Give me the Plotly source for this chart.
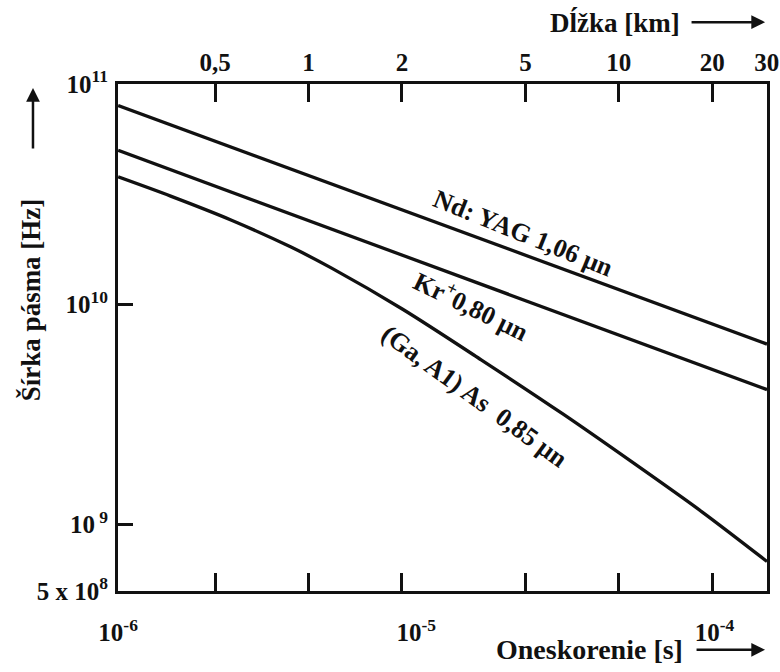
import plotly.graph_objects as go
import math

# ---- data ----
# delay [s] axis extent and decade tick labels
X_MIN, X_MAX = 1e-6, 1.5e-4
X_TICKS = [1e-6, 1e-5, 1e-4]
X_TICKTEXT = ["10<sup>-6</sup>", "10<sup>-5</sup>", "10<sup>-4</sup>"]

# bandwidth [Hz] axis
Y_MIN, Y_MAX = 5e8, 1e11
Y_TICKS = [5e8, 1e9, 1e10, 1e11]
Y_TICKTEXT = ["5 x 10<sup>8</sup>", "10<sup> 9</sup>", "10<sup>10</sup>", "10<sup>11</sup>"]

# length [km] top axis (its own log scale as drawn in the reference)
KM_MIN, KM_MAX = 0.243, 30
KM_TICKS = [0.5, 1, 2, 5, 10, 20, 30]
KM_TICKTEXT = ["0,5", "1", "2", "5", "10", "20", "30"]

# curves
nd_t = [1e-6, 1.5e-4]
nd_b = [8.0e10, 6.6e9]

kr_t = [1e-6, 1.5e-4]
kr_b = [5.0e10, 4.1e9]

ga_t = [1e-6, 1.5e-6, 2.4e-6, 3.8e-6, 5.2e-6, 9e-6, 1.65e-5, 3.1e-5, 5.3e-5, 9.1e-5, 1.5e-4]
ga_b = [3.79e10, 3.10e10, 2.41e10, 1.82e10, 1.46e10, 9.5e9, 5.6e9, 3.18e9, 1.92e9, 1.14e9, 6.8e8]

FONT = "Liberation Serif, Times New Roman, serif"
LW = 3.3

fig = go.Figure()
for t, b in [(nd_t, nd_b), (kr_t, kr_b), (ga_t, ga_b)]:
    fig.add_trace(go.Scatter(x=t, y=b, mode="lines", line=dict(color="#111111", width=LW, shape="spline", smoothing=0.8),
                             showlegend=False, hoverinfo="skip"))
# dummy trace for the km axis
fig.add_trace(go.Scatter(x=KM_TICKS, y=[None] * len(KM_TICKS), xaxis="x2", mode="markers",
                         showlegend=False, hoverinfo="skip"))

fig.update_layout(
    width=780, height=672,
    margin=dict(l=118, r=13, t=84, b=81),
    paper_bgcolor="white", plot_bgcolor="white",
    font=dict(family=FONT, size=25, color="#111111", weight="bold"),
    xaxis=dict(type="log", range=[math.log10(X_MIN) - 0.0005, math.log10(X_MAX)],
               tickvals=X_TICKS, ticktext=X_TICKTEXT, ticks="", showgrid=False, zeroline=False, automargin=False,
               showline=True, linecolor="#111111", linewidth=3, ticklabelstandoff=17),
    xaxis2=dict(type="log", overlaying="x", side="top", anchor="y", automargin=False,
                range=[math.log10(KM_MIN), math.log10(KM_MAX) + 0.0005],
                tickvals=KM_TICKS, ticktext=KM_TICKTEXT, ticks="inside", ticklen=18, tickwidth=2.5,
                tickcolor="#111111", showgrid=False, zeroline=False,
                showline=True, linecolor="#111111", linewidth=3, mirror="ticks", ticklabelstandoff=0),
    yaxis=dict(type="log", range=[math.log10(Y_MIN) - 0.0005, math.log10(Y_MAX) + 0.0005], automargin=False,
               tickvals=Y_TICKS, ticktext=Y_TICKTEXT, ticks="inside", ticklen=15, tickwidth=2.5,
               tickcolor="#111111", showgrid=False, zeroline=False,
               showline=True, linecolor="#111111", linewidth=3, mirror=True, ticklabelstandoff=2),
)

base = dict(xref="paper", yref="paper", showarrow=False, xanchor="center", yanchor="middle")
ann = []
# curve labels
ann.append(dict(base, text="Nd: YAG 1,06 μn", x=0.625, y=0.706, textangle=22, font=dict(size=26)))
ann.append(dict(base, text="Kr<sup>+</sup>0,80 μn", x=0.546, y=0.564, textangle=26, font=dict(size=26)))
ann.append(dict(base, text="(Ga, A1) As  0,85 μn", x=0.549, y=0.383, textangle=36, font=dict(size=26)))
# axis titles
ann.append(dict(base, text="Šírka pásma [Hz]", x=-0.133, y=0.575, textangle=-90, font=dict(size=27)))
ann.append(dict(base, text="Dĺžka [km]", x=0.766, y=1.122, font=dict(size=27)))
ann.append(dict(base, text="Oneskorenie [s]", x=0.727, y=-0.116, font=dict(size=28)))
# arrows
arrow = dict(text="", showarrow=True, arrowhead=2, arrowsize=1.1, arrowwidth=2.5, arrowcolor="#111111",
             xref="paper", yref="paper", axref="pixel", ayref="pixel")
ann.append(dict(arrow, x=-0.131, y=0.992, ax=0, ay=62))
ann.append(dict(arrow, x=0.997, y=1.122, ax=-75, ay=0))
ann.append(dict(arrow, x=0.997, y=-0.116, ax=-70, ay=0))
fig.update_layout(annotations=ann)

fig.write_html("out.html", post_script="document.body.style.margin='0';",
               config={"displayModeBar": False})
